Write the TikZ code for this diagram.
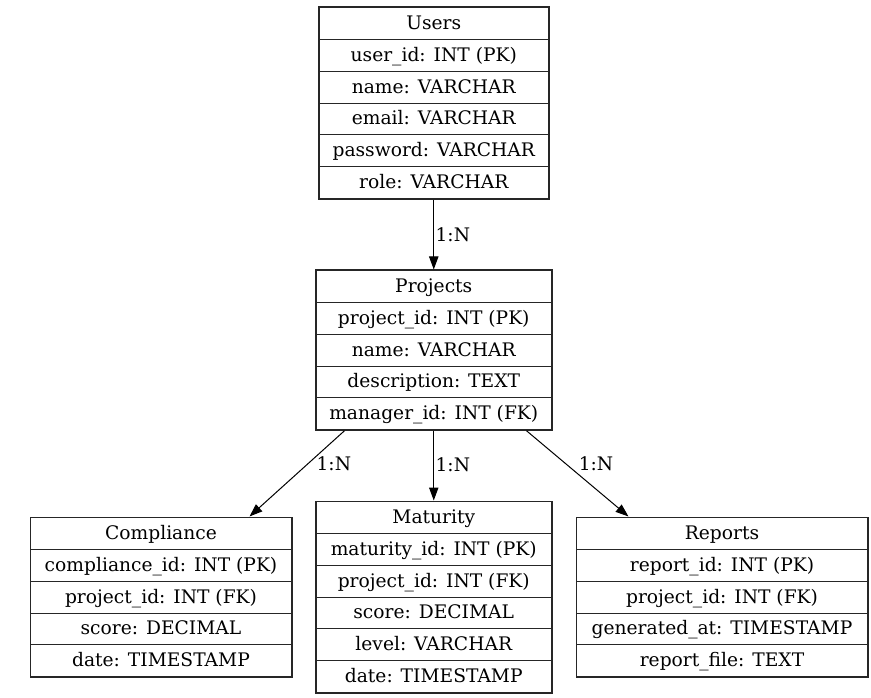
\documentclass[tikz,border=0pt]{standalone}
\usepackage{fontspec}
\setmainfont{DejaVu Serif}
\usetikzlibrary{arrows.meta,fit}
\newcommand{\rowh}{31.85}
\newcommand{\erdtable}[5]{%
  \foreach \rowtext [count=\k from 0] in {#5}{
    \node[cell, minimum width=#4*0.75pt, anchor=north west] (#1-\k) at (#2,{#3+\k*\rowh}) {\rowtext};
  }%
}
\begin{document}
\begin{tikzpicture}[x=0.75pt,y=-0.75pt,
  cell/.style={draw=black!85, line width=0.75pt, inner sep=0pt,
    minimum height=\rowh*0.75pt, text height=10pt, text depth=1pt,
    font=\fontsize{14}{16}\selectfont},
  frame/.style={draw=black!85, line width=0.75pt, inner sep=0pt},
  edge/.style={draw=black, line width=0.75pt, -{Triangle[length=9.75pt,width=7pt]}},
  lbl/.style={anchor=west, inner sep=1pt, font=\fontsize{14}{16}\selectfont}]
\useasboundingbox (0,0) rectangle (871,698);
\fill[white] (0,0) rectangle (871,698);

\erdtable{users}{318.5}{7}{229.5}{Users,user\_id: INT (PK),name: VARCHAR,email: VARCHAR,password: VARCHAR,role: VARCHAR}
\node[frame, fit=(users-0)(users-5)] (users) {};

\erdtable{projects}{315.5}{270}{235.5}{Projects,project\_id: INT (PK),name: VARCHAR,description: TEXT,manager\_id: INT (FK)}
\node[frame, fit=(projects-0)(projects-4)] (projects) {};

\erdtable{compliance}{30}{517}{261}{Compliance,compliance\_id: INT (PK),project\_id: INT (FK),score: DECIMAL,date: TIMESTAMP}
\node[frame, fit=(compliance-0)(compliance-4)] (compliance) {};

\erdtable{maturity}{315.5}{501}{235.5}{Maturity,maturity\_id: INT (PK),project\_id: INT (FK),score: DECIMAL,level: VARCHAR,date: TIMESTAMP}
\node[frame, fit=(maturity-0)(maturity-5)] (maturity) {};

\erdtable{reports}{576}{517}{291}{Reports,report\_id: INT (PK),project\_id: INT (FK),generated\_at: TIMESTAMP,report\_file: TEXT}
\node[frame, fit=(reports-0)(reports-4)] (reports) {};

\draw[edge] (users.south) -- node[lbl, midway]{1:N} (projects.north);
\draw[edge] ([xshift=22.1pt]projects.south west) -- node[lbl, pos=0.39, xshift=5.5pt]{1:N} ([xshift=-32.25pt]compliance.north east);
\draw[edge] (projects.south) -- node[lbl, pos=0.48]{1:N} (maturity.north);
\draw[edge] ([xshift=-19.5pt]projects.south east) -- node[lbl, pos=0.39, xshift=8pt]{1:N} ([xshift=39.75pt]reports.north west);
\end{tikzpicture}
\end{document}
